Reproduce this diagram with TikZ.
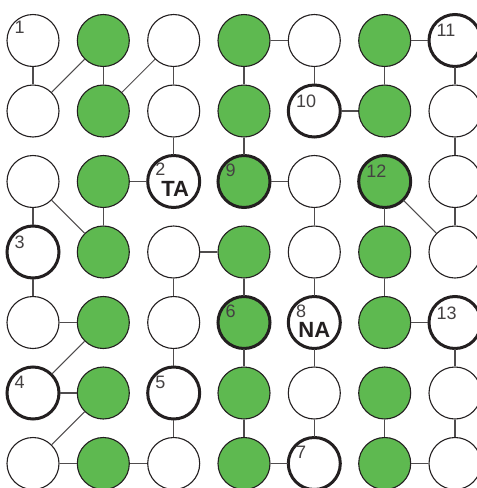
\documentclass[tikz,border=0pt]{standalone}
\usepackage{fontspec}
\setmainfont{Liberation Sans}
\definecolor{leaf}{RGB}{94,185,80}
\definecolor{ink}{RGB}{35,31,32}
\begin{document}
\begin{tikzpicture}[x=1pt, y=-1pt,
  disk/.style={circle, draw=ink, line width=1.1pt, minimum size=52pt, inner sep=0pt},
  wdisk/.style={disk, fill=white},
  gdisk/.style={disk, fill=leaf},
  ring/.style={draw=ink, line width=3pt},
  link/.style={draw=ink!80, line width=1.3pt},
  num/.style={font=\fontsize{18}{18}\selectfont, text=ink!85, inner sep=0pt, anchor=west},
  tag/.style={font=\fontsize{22}{22}\selectfont\bfseries, text=ink, inner sep=0pt}]
  \useasboundingbox (0,0) rectangle (477,488);
  \clip (0,0) rectangle (477,488);
  \foreach \r/\y in {1/40.5,2/111,3/181.5,4/252,5/322.5,6/393,7/463.5}
    \foreach \c/\x/\s in {1/33/wdisk,2/103.3/gdisk,3/173.7/wdisk,4/244/gdisk,5/314.3/wdisk,6/384.7/gdisk,7/455/wdisk}
      \node[\s] (n\r\c) at (\x,\y) {};
  \foreach \n in {17,25,33,34,36,41,54,55,57,61,63,75}
    \draw[ring] (n\n.center) circle (26pt);
  \foreach \a/\b in {11/21,12/22,13/23,14/24,15/25,16/26,17/27,
                     23/33,24/34,27/37,
                     31/41,32/42,35/45,36/46,37/47,
                     41/51,43/53,44/54,45/55,46/56,
                     53/63,54/64,55/65,57/67,
                     63/73,64/74,65/75,66/76,67/77,
                     14/15,16/17,25/26,32/33,34/35,43/44,
                     51/52,56/57,61/62,71/72,72/73,74/75,76/77}
    \draw[link] (n\a) -- (n\b);
  \foreach \a/\b in {12/21,13/22,31/42,36/47,52/61,62/71}
    \draw[link, line width=1pt] (n\a) -- (n\b);
  \node[num] (l1) at ([shift={(-18.5,-13)}]n11.center) {1};
  \node[num] (l2) at ([shift={(-18.5,-12)}]n33.center) {2};
  \node[num] (l3) at ([shift={(-18.5,-10)}]n41.center) {3};
  \node[num] (l4) at ([shift={(-18.5,-11)}]n61.center) {4};
  \node[num] (l5) at ([shift={(-18.5,-11)}]n63.center) {5};
  \node[num] (l6) at ([shift={(-18.5,-11)}]n54.center) {6};
  \node[num] (l7) at ([shift={(-18.5,-11)}]n75.center) {7};
  \node[num] (l8) at ([shift={(-18.5,-11)}]n55.center) {8};
  \node[num] (l9) at ([shift={(-18.5,-11)}]n34.center) {9};
  \node[num] (l10) at ([shift={(-18.5,-10)}]n25.center) {10};
  \node[num] (l11) at ([shift={(-18.5,-10)}]n17.center) {11};
  \node[num] (l12) at ([shift={(-18.5,-10)}]n36.center) {12};
  \node[num] (l13) at ([shift={(-18.5,-9)}]n57.center) {13};
  \node[tag] (ta) at ([shift={(1.5,7)}]n33.center) {TA};
  \node[tag] (na) at ([shift={(0,7)}]n55.center) {NA};
\end{tikzpicture}
\end{document}
